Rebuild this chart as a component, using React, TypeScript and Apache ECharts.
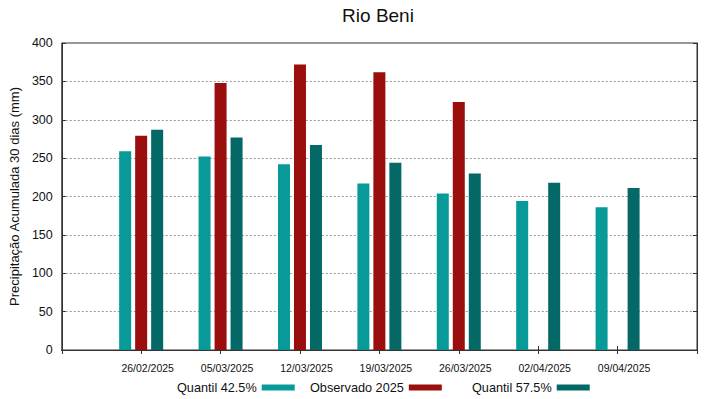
import React, { useEffect, useRef } from "react";
import * as echarts from "echarts";

const categories = ["26/02/2025", "05/03/2025", "12/03/2025", "19/03/2025", "26/03/2025", "02/04/2025", "09/04/2025"];
const quantil425 = [259, 252, 242, 217, 204, 194, 186];
const observado2025 = [279, 348, 372, 362, 323, null, null];
const quantil575 = [287, 277, 267, 244, 230, 218, 211];
const yTicks = { min: 0, max: 400, interval: 50 };

const FONT = "'Liberation Sans', Arial, sans-serif";
const C1 = "#089a98";
const C2 = "#9a0e0e";
const C3 = "#036866";

const pad = (arr: (number | null)[]) => [null, ...arr, null];

export default function App() {
  const ref = useRef<HTMLDivElement>(null);
  useEffect(() => {
    if (!ref.current) return;
    const chart = echarts.init(ref.current, null, { renderer: "svg" });
    const cats = ["", ...categories, ""];
    const legendBase = {
      orient: "horizontal",
      top: 381,
      padding: 0,
      align: "right",
      icon: "rect",
      itemWidth: 33,
      itemHeight: 6,
      textStyle: { fontFamily: FONT, fontSize: 12.7, color: "#111" },
      selectedMode: false,
    };
    chart.setOption({
      animation: false,
      textStyle: { fontFamily: FONT },
      title: {
        text: "Rio Beni",
        left: 378,
        textAlign: "center",
        top: 6,
        padding: 0,
        textStyle: { fontFamily: FONT, fontSize: 19, fontWeight: "normal", color: "#111" },
      },
      legend: [
        { ...legendBase, left: 177, data: ["Quantil 42.5%"] },
        { ...legendBase, left: 310, data: ["Observado 2025"] },
        { ...legendBase, left: 472, data: ["Quantil 57.5%"] },
      ],
      grid: {
        left: 58,
        right: 22,
        top: 43,
        bottom: 49,
        show: true,
        borderColor: "#333",
        borderWidth: 1,
        containLabel: false,
      },
      xAxis: [
        {
          type: "category",
          data: cats,
          boundaryGap: false,
          axisLine: { show: true, lineStyle: { color: "#333", width: 1 } },
          axisTick: { show: true, inside: true, length: 4, lineStyle: { color: "#333" } },
          axisLabel: {
            interval: 0,
            fontFamily: FONT,
            fontSize: 10.5,
            color: "#111",
            margin: 12,
            padding: [0, 0, 0, 13],
          },
          splitLine: { show: false },
        },
        {
          type: "category",
          data: cats,
          boundaryGap: false,
          position: "top",
          axisLine: { show: true, lineStyle: { color: "#333", width: 1 } },
          axisTick: { show: true, inside: true, length: 4, lineStyle: { color: "#333" } },
          axisLabel: { show: false },
          splitLine: { show: false },
        },
      ],
      yAxis: [
        {
          type: "value",
          min: yTicks.min,
          max: yTicks.max,
          interval: yTicks.interval,
          name: "Precipitação Acumulada 30 dias (mm)",
          nameLocation: "middle",
          nameGap: 36,
          nameTextStyle: { fontFamily: FONT, fontSize: 13, color: "#111" },
          axisLine: { show: true, lineStyle: { color: "#333", width: 1 } },
          axisTick: { show: true, inside: true, length: 4, lineStyle: { color: "#333" } },
          axisLabel: { fontFamily: FONT, fontSize: 12.5, color: "#111", margin: 9 },
          splitLine: { show: true, lineStyle: { color: "#999", type: [2, 2], width: 1 } },
        },
        {
          type: "value",
          min: yTicks.min,
          max: yTicks.max,
          interval: yTicks.interval,
          position: "right",
          axisLine: { show: true, lineStyle: { color: "#333", width: 1 } },
          axisTick: { show: true, inside: true, length: 4, lineStyle: { color: "#333" } },
          axisLabel: { show: false },
          splitLine: { show: false },
        },
      ],
      series: [
        {
          name: "Quantil 42.5%",
          type: "bar",
          data: pad(quantil425),
          barWidth: 12,
          barGap: "33.3%",
          itemStyle: { color: C1 },
        },
        {
          name: "Observado 2025",
          type: "bar",
          data: pad(observado2025),
          barWidth: 12,
          barGap: "33.3%",
          itemStyle: { color: C2 },
        },
        {
          name: "Quantil 57.5%",
          type: "bar",
          data: pad(quantil575),
          barWidth: 12,
          barGap: "33.3%",
          itemStyle: { color: C3 },
        },
      ],
    });
    return () => chart.dispose();
  }, []);
  return (
    <div
      ref={ref}
      style={{ position: "absolute", left: 0, top: 0, width: 719, height: 399, background: "#fff" }}
    />
  );
}
